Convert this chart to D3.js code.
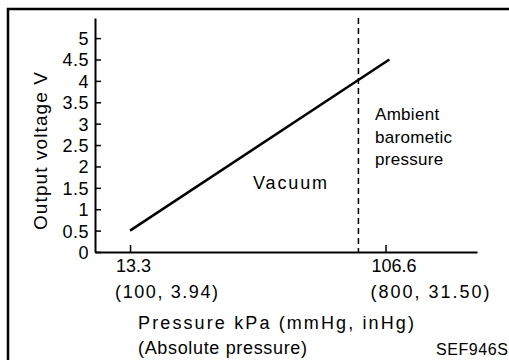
<!DOCTYPE html>
<html>
<head>
<meta charset="utf-8">
<script src="https://cdn.jsdelivr.net/npm/d3@7"></script>
<style>
  html, body { margin: 0; padding: 0; background: #fff; }
  svg { display: block; }
  text { font-family: "Liberation Sans", Arial, Helvetica, sans-serif; fill: #000; }
</style>
</head>
<body>
<svg id="chart" width="509" height="360"></svg>
<script>
// Sensor output line: pressure (kPa, absolute) vs output voltage (V)
const linePressure = [13.3, 108];
const lineVoltage = [0.5, 4.5];

// Ambient barometric pressure marker (kPa)
const ambientPressure = [96.7];

// Axis ticks
const yTickValues = [0, 0.5, 1, 1.5, 2, 2.5, 3, 3.5, 4, 4.5, 5];
const xTickValues = [13.3, 106.6];
const xTickLabels = ["13.3", "106.6"];
const xTickSubLabels = ["(100, 3.94)", "(800, 31.50)"];

const svg = d3.select("#chart");

const x = d3.scaleLinear().domain([0.5, 140]).range([95, 477]);
const y = d3.scaleLinear().domain([0, 5.47]).range([252, 18]);

// Outer frame
svg.append("path")
  .attr("d", "M8,365V9H511")
  .attr("fill", "none")
  .attr("stroke", "#000")
  .attr("stroke-width", 2.5);

// Y axis (ticks point inward, labels outside)
const yAxis = d3.axisLeft(y)
  .tickValues(yTickValues)
  .tickFormat(d3.format("~g"))
  .tickSizeInner(-6)
  .tickSizeOuter(0)
  .tickPadding(6);

const gy = svg.append("g")
  .attr("transform", `translate(${x.range()[0]},0)`)
  .call(yAxis);
gy.select(".domain").attr("stroke-width", 2);
gy.selectAll(".tick line").attr("stroke-width", 1.5);
gy.selectAll(".tick text")
  .attr("font-size", 18)
  .attr("font-family", null)
  .attr("dy", "0.36em")
  .style("letter-spacing", "0.5px");

// X axis (ticks point upward)
const xAxis = d3.axisBottom(x)
  .tickValues(xTickValues)
  .tickFormat("")
  .tickSizeInner(-7)
  .tickSizeOuter(0);

const gx = svg.append("g")
  .attr("transform", `translate(0,${y(0)})`)
  .call(xAxis);
gx.select(".domain").attr("stroke-width", 2);
gx.selectAll(".tick line").attr("stroke-width", 1.5);

// Two-line x tick labels: kPa above, (mmHg, inHg) below
const subWidths = [103, 119];
const xl = svg.append("g").selectAll("g")
  .data(xTickValues)
  .join("g");
xl.append("text")
  .attr("x", d => x(d) - 14)
  .attr("y", 272)
  .attr("font-size", 18)
  .text((d, i) => xTickLabels[i]);
xl.append("text")
  .attr("x", d => x(d) - 15)
  .attr("y", 298)
  .attr("font-size", 18)
  .attr("textLength", (d, i) => subWidths[i])
  .attr("lengthAdjust", "spacing")
  .text((d, i) => xTickSubLabels[i]);

// Ambient pressure dashed marker
svg.append("g").selectAll("line")
  .data(ambientPressure)
  .join("line")
  .attr("x1", d => x(d)).attr("x2", d => x(d))
  .attr("y1", y.range()[1]).attr("y2", y(0))
  .attr("stroke", "#000")
  .attr("stroke-width", 1.5)
  .attr("stroke-dasharray", "6,4");

// Output characteristic line
const pts = linePressure.map((p, i) => [p, lineVoltage[i]]);
svg.append("path")
  .datum(pts)
  .attr("d", d3.line().x(d => x(d[0])).y(d => y(d[1])))
  .attr("fill", "none")
  .attr("stroke", "#000")
  .attr("stroke-width", 2.5);

// Axis titles
svg.append("text")
  .attr("transform", "translate(47,151) rotate(-90)")
  .attr("text-anchor", "middle")
  .attr("font-size", 19)
  .attr("textLength", 158)
  .attr("lengthAdjust", "spacing")
  .text("Output voltage V");

svg.append("text")
  .attr("x", 138).attr("y", 329)
  .attr("font-size", 18)
  .attr("textLength", 276)
  .attr("lengthAdjust", "spacing")
  .text("Pressure kPa (mmHg, inHg)");

svg.append("text")
  .attr("x", 138).attr("y", 354)
  .attr("font-size", 18)
  .attr("textLength", 169)
  .attr("lengthAdjust", "spacing")
  .text("(Absolute pressure)");

svg.append("text")
  .attr("x", 436).attr("y", 355)
  .attr("font-size", 16)
  .attr("textLength", 72)
  .attr("lengthAdjust", "spacing")
  .text("SEF946S");

// Region annotations
svg.append("text")
  .attr("x", 253).attr("y", 189)
  .attr("font-size", 18)
  .attr("textLength", 74)
  .attr("lengthAdjust", "spacing")
  .text("Vacuum");

const ambientLines = ["Ambient", "barometic", "pressure"];
svg.append("g").selectAll("text")
  .data(ambientLines)
  .join("text")
  .attr("x", 375)
  .attr("y", (d, i) => 120 + i * 22.5)
  .attr("font-size", 17)
  .style("letter-spacing", "0.3px")
  .text(d => d);
</script>
</body>
</html>
